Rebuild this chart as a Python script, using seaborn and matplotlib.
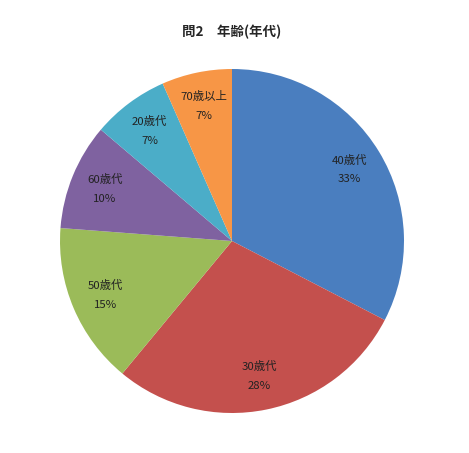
import matplotlib
matplotlib.use("Agg")
import matplotlib.pyplot as plt
import seaborn as sns

# data (shares; labels show them rounded)
age_groups = ['40歳代', '30歳代', '50歳代', '60歳代', '20歳代', '70歳以上']
shares = [32.6, 28.4, 15.2, 10.0, 7.2, 6.6]
slice_colors = ['#4A7EBF', '#C4504D', '#9BBB59', '#7F62A0', '#4BADC8', '#F79646']
title = '問2　年齢(年代)'

sns.set_style('white')
plt.rcParams['font.family'] = ['Noto Sans CJK JP', 'DejaVu Sans']

fig = plt.figure(figsize=(4.69, 4.53), dpi=100)
cx, cy, r = 232, 241, 172
ax = fig.add_axes([(cx - r) / 469, (453 - cy - r) / 453, 2 * r / 469, 2 * r / 453])

palette = sns.color_palette(slice_colors)
wedges, texts, autotexts = ax.pie(
    shares, colors=palette, startangle=90, counterclock=False,
    autopct='%1.0f%%', pctdistance=0.8, radius=1,
    wedgeprops=dict(linewidth=0))

for t, lab in zip(autotexts, age_groups):
    t.set_text(f'{lab}\n{t.get_text()}')
    t.set_fontsize(8.2)
    t.set_color('#222222')
    t.set_linespacing(2.1)

ax.set_xlim(-1, 1)
ax.set_ylim(-1, 1)
ax.set_aspect('equal')
ax.axis('off')

fig.text(cx / 469, 1 - 32 / 453, title, ha='center', va='center',
         fontsize=9.7, fontweight='bold')

fig.savefig('out.png', dpi=100, facecolor='white')
